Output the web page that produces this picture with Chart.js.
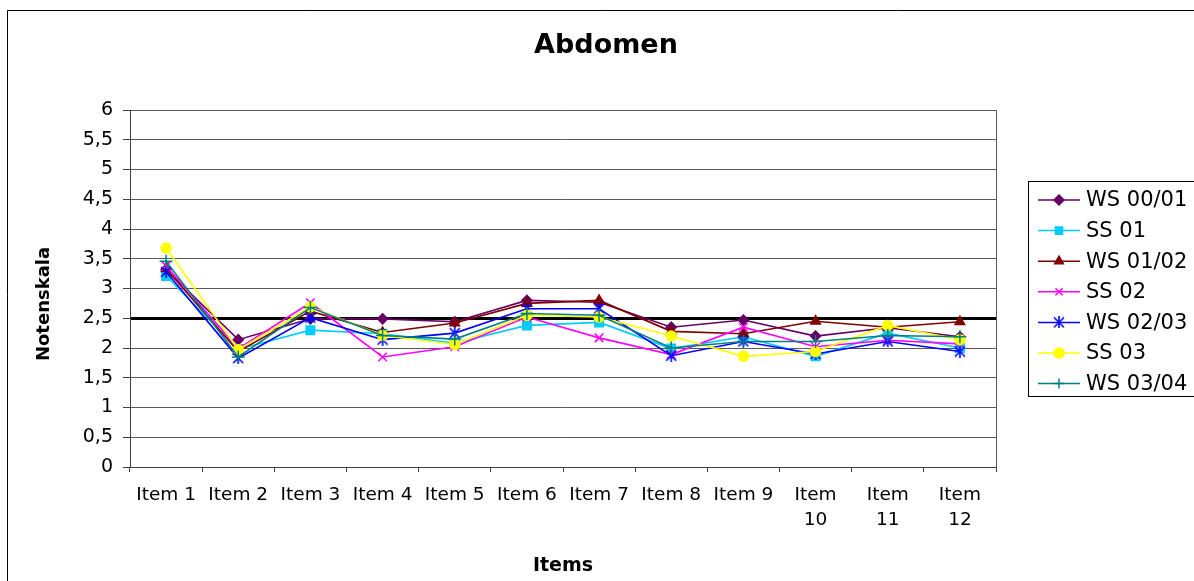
<!DOCTYPE html>
<html>
<head>
<meta charset="utf-8">
<script src="https://cdn.jsdelivr.net/npm/chart.js@4"></script>
<style>
  html, body { margin: 0; padding: 0; background: #fff; overflow: hidden; }
  canvas { display: block; }
</style>
</head>
<body>
<canvas id="chart" width="1194" height="581"></canvas>
<script>
// ---- data -------------------------------------------------------------
const categories = ['Item 1', 'Item 2', 'Item 3', 'Item 4', 'Item 5', 'Item 6',
                    'Item 7', 'Item 8', 'Item 9', 'Item 10', 'Item 11', 'Item 12'];

const seriesNames = ['WS 00/01', 'SS 01', 'WS 01/02', 'SS 02', 'WS 02/03', 'SS 03', 'WS 03/04'];

const ws0001 = [3.32, 2.14, 2.49, 2.49, 2.44, 2.80, 2.77, 2.35, 2.47, 2.20, 2.34, 2.19];
const ss01   = [3.21, 1.98, 2.30, 2.24, 2.08, 2.38, 2.43, 1.99, 2.19, 1.86, 2.25, 2.00];
const ws0102 = [3.33, 1.94, 2.62, 2.26, 2.42, 2.75, 2.80, 2.28, 2.24, 2.45, 2.35, 2.44];
const ss02   = [3.38, 1.99, 2.76, 1.85, 2.02, 2.52, 2.17, 1.89, 2.35, 2.02, 2.13, 2.07];
const ws0203 = [3.28, 1.83, 2.51, 2.14, 2.25, 2.66, 2.66, 1.87, 2.11, 1.90, 2.11, 1.94];
const ss03   = [3.68, 1.97, 2.69, 2.21, 2.06, 2.55, 2.52, 2.20, 1.86, 1.94, 2.38, 2.14];
const ws0304 = [3.46, 1.85, 2.68, 2.21, 2.15, 2.58, 2.55, 2.00, 2.11, 2.11, 2.21, 2.19];

const yTickValues = [0, 0.5, 1, 1.5, 2, 2.5, 3, 3.5, 4, 4.5, 5, 5.5, 6];
const referenceLine = 2.5;

const chartTitle = 'Abdomen';
const xAxisTitle = 'Items';
const yAxisTitle = 'Notenskala';

// ---- styling ----------------------------------------------------------
const FONT = '"DejaVu Sans", "Liberation Sans", Arial, sans-serif';

// six-spoke asterisk marker (diagonal cross plus a vertical stroke)
function asteriskMarker(color, size) {
  const c = document.createElement('canvas');
  c.width = size; c.height = size;
  const g = c.getContext('2d');
  const m = size / 2, r = size / 2 - 1;
  g.strokeStyle = color;
  g.lineWidth = 1.6;
  g.beginPath();
  g.moveTo(m - r, m - r); g.lineTo(m + r, m + r);
  g.moveTo(m + r, m - r); g.lineTo(m - r, m + r);
  g.moveTo(m, 0); g.lineTo(m, size);
  g.stroke();
  return c;
}

const seriesValues = [ws0001, ss01, ws0102, ss02, ws0203, ss03, ws0304];
const seriesStyle = [
  { color: '#660066', point: 'rectRot',  radius: 5 },
  { color: '#00CCFF', point: 'rect',     radius: 6 },
  { color: '#800000', point: 'triangle', radius: 5.5 },
  { color: '#FF00FF', point: 'crossRot', radius: 6 },
  { color: '#0000FF', point: asteriskMarker('#0000FF', 12), radius: 6 },
  { color: '#FFFF00', point: 'circle',   radius: 5 },
  { color: '#008080', point: 'cross',    radius: 6.5 }
];

const datasets = seriesNames.map((name, i) => ({
  label: name,
  data: seriesValues[i],
  borderColor: seriesStyle[i].color,
  backgroundColor: seriesStyle[i].color,
  borderWidth: 1.6,
  pointStyle: seriesStyle[i].point,
  pointRadius: seriesStyle[i].radius,
  pointHoverRadius: seriesStyle[i].radius,
  pointBorderWidth: 1.5,
  pointBackgroundColor: seriesStyle[i].color,
  pointBorderColor: seriesStyle[i].color,
  tension: 0,
  fill: false,
  order: seriesNames.length - i   // later series are painted on top
}));

// frame, titles, plot border and boxed legend
const decorations = {
  id: 'decorations',
  beforeDraw(chart) {
    const ctx = chart.ctx;
    ctx.save();
    ctx.fillStyle = '#fff';
    ctx.fillRect(0, 0, chart.width, chart.height);
    ctx.strokeStyle = '#000';
    ctx.lineWidth = 1;
    ctx.beginPath();
    ctx.moveTo(7.5, chart.height); ctx.lineTo(7.5, 10.5); ctx.lineTo(chart.width, 10.5);
    ctx.stroke();
    ctx.restore();
  },
  afterDraw(chart) {
    const ctx = chart.ctx;
    const area = chart.chartArea;
    ctx.save();

    // right edge of the plot area
    ctx.strokeStyle = '#5a5a5a';
    ctx.lineWidth = 1;
    ctx.beginPath();
    ctx.moveTo(Math.round(area.right) + 0.5, area.top);
    ctx.lineTo(Math.round(area.right) + 0.5, area.bottom);
    ctx.stroke();

    // chart title
    ctx.fillStyle = '#000';
    ctx.textAlign = 'center';
    ctx.textBaseline = 'middle';
    ctx.font = 'bold 27px ' + FONT;
    ctx.fillText(chartTitle, 606, 46);

    // axis titles
    ctx.font = 'bold 19px ' + FONT;
    ctx.fillText(xAxisTitle, (area.left + area.right) / 2, 566);
    ctx.save();
    ctx.translate(44, 304);
    ctx.rotate(-Math.PI / 2);
    ctx.font = 'bold 18px ' + FONT;
    ctx.fillText(yAxisTitle, 0, 0);
    ctx.restore();

    // legend
    const lx = 1028.5, ly = 181.5, lh = 215;
    ctx.strokeStyle = '#000';
    ctx.lineWidth = 1;
    ctx.strokeRect(lx, ly, 220, lh);
    ctx.font = '21px ' + FONT;
    ctx.textAlign = 'left';
    ctx.textBaseline = 'middle';
    chart.data.datasets.forEach((ds, i) => {
      const y = 200 + i * 30.6;
      ctx.strokeStyle = ds.borderColor;
      ctx.lineWidth = 1.5;
      ctx.beginPath();
      ctx.moveTo(1038, y); ctx.lineTo(1080, y);
      ctx.stroke();
      ctx.fillStyle = ds.borderColor;
      ctx.strokeStyle = ds.borderColor;
      Chart.helpers.drawPoint(ctx, {
        pointStyle: ds.pointStyle,
        radius: Math.min(ds.pointRadius, 5),
        borderWidth: 1.5,
        rotation: 0
      }, 1059, y);
      ctx.fillStyle = '#000';
      ctx.fillText(ds.label, 1086, y + 1);
    });

    ctx.restore();
  }
};

new Chart(document.getElementById('chart'), {
  type: 'line',
  data: { labels: categories, datasets },
  options: {
    responsive: false,
    animation: false,
    devicePixelRatio: 1,
    layout: { padding: { top: 110, right: 198, bottom: 0, left: 0 } },
    plugins: {
      legend: { display: false },
      title: { display: false },
      tooltip: { enabled: false }
    },
    scales: {
      x: {
        type: 'category',
        offset: true,
        grid: {
          offset: true,
          drawOnChartArea: false,
          drawTicks: true,
          tickLength: 5,
          tickColor: '#404040'
        },
        border: { color: '#404040', width: 1 },
        ticks: {
          color: '#000',
          autoSkip: false,
          maxRotation: 0,
          padding: 11,
          font: { family: FONT, size: 18.5, lineHeight: 1.35 },
          callback(value, index) {
            const s = categories[index];
            return s.length > 6 ? s.split(' ') : s;
          }
        },
        afterFit(scale) { scale.height = 114; }
      },
      y: {
        min: 0,
        max: 6,
        afterBuildTicks(scale) { scale.ticks = yTickValues.map(v => ({ value: v })); },
        grid: {
          color: c => (c.tick && c.tick.value === referenceLine) ? '#000' : '#5a5a5a',
          lineWidth: c => (c.tick && c.tick.value === referenceLine) ? 3 : 1,
          tickLength: 7,
          tickColor: '#404040',
          tickWidth: 1
        },
        border: { color: '#404040', width: 1 },
        ticks: {
          color: '#000',
          padding: 10,
          font: { family: FONT, size: 19 },
          callback: v => String(v).replace('.', ',')
        },
        afterFit(scale) { scale.width = 130; }
      }
    }
  },
  plugins: [decorations]
});
</script>
</body>
</html>
